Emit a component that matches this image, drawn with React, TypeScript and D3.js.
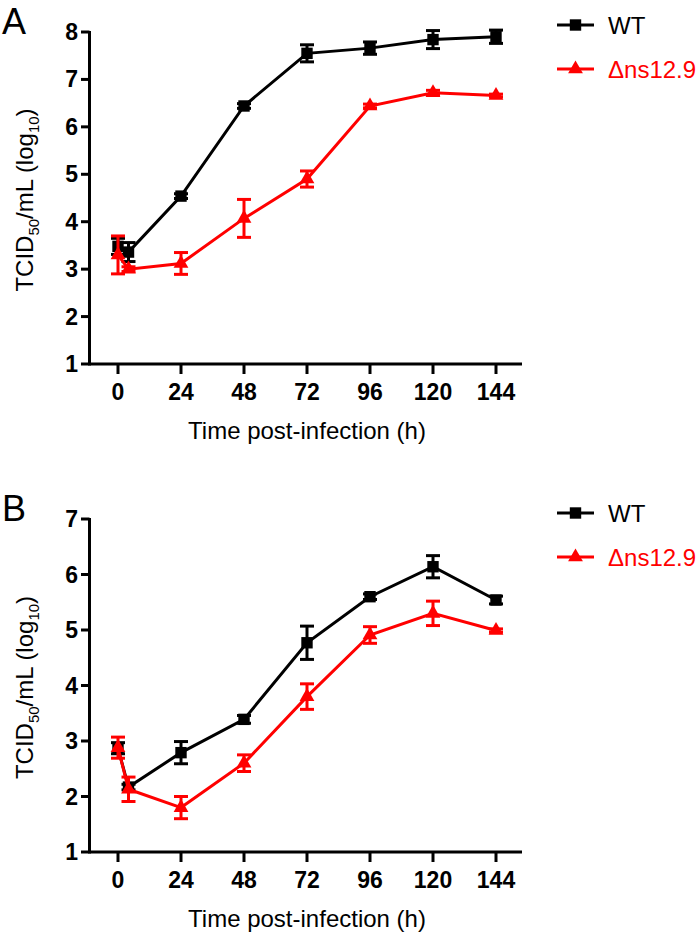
import React from "react";
import * as d3 from "d3";

const times = [0, 4, 24, 48, 72, 96, 120, 144];
const xTicks = [0, 24, 48, 72, 96, 120, 144];

const wtA = [3.48, 3.36, 4.54, 6.44, 7.55, 7.66, 7.84, 7.9];
const wtAErr = [0.17, 0.2, 0.05, 0.05, 0.18, 0.13, 0.19, 0.14];
const mutA = [3.3, 3.0, 3.12, 4.07, 4.9, 6.44, 6.72, 6.66];
const mutAErr = [0.4, 0.05, 0.23, 0.4, 0.17, 0.04, 0.05, 0.03];

const wtB = [2.87, 2.17, 2.79, 3.39, 4.77, 5.6, 6.14, 5.54];
const wtBErr = [0.1, 0.05, 0.2, 0.07, 0.3, 0.05, 0.2, 0.07];
const mutB = [2.88, 2.13, 1.8, 2.6, 3.8, 4.91, 5.3, 4.99];
const mutBErr = [0.19, 0.22, 0.2, 0.15, 0.23, 0.15, 0.22, 0.03];

const yTicksA = [1, 2, 3, 4, 5, 6, 7, 8];
const yTicksB = [1, 2, 3, 4, 5, 6, 7];

const seriesNames = ["WT", "\u0394ns12.9"];
const seriesColors = ["#000000", "#ff0000"];

const FONT = "'Liberation Sans', Arial, Helvetica, sans-serif";

type PanelProps = {
  label: string;
  top: number;
  bottom: number;
  yMax: number;
  yTicks: number[];
  wt: number[];
  wtErr: number[];
  mut: number[];
  mutErr: number[];
  labelY: number;
  legendY: number;
};

function Panel(p: PanelProps) {
  const x = d3.scaleLinear().domain([0, 144]).range([118, 496]);
  const y = d3.scaleLinear().domain([1, p.yMax]).range([p.bottom, p.top]);
  const axisX = 89.5;
  const line = d3
    .line<number>()
    .x((_, i) => x(times[i]))
    .y((d) => y(d));

  const tri = d3.symbol().type(d3.symbolTriangle).size(95)();
  const sq = d3.symbol().type(d3.symbolSquare).size(130)();

  const series = [
    { vals: p.wt, err: p.wtErr, color: seriesColors[0], shape: sq },
    { vals: p.mut, err: p.mutErr, color: seriesColors[1], shape: tri },
  ];

  const capW = 7;
  const midY = (p.top + p.bottom) / 2 + 2;

  return (
    <g>
      <text x={2} y={p.labelY} fontFamily={FONT} fontSize={36} fill="#000">
        {p.label}
      </text>
      {/* axes */}
      <line x1={axisX} x2={axisX} y1={p.top - 1} y2={p.bottom + 1.5} stroke="#000" strokeWidth={3} />
      <line x1={axisX} x2={522} y1={p.bottom} y2={p.bottom} stroke="#000" strokeWidth={3} />
      {p.yTicks.map((t) => (
        <g key={"y" + t}>
          <line x1={81} x2={axisX} y1={y(t)} y2={y(t)} stroke="#000" strokeWidth={3} />
          <text
            x={78}
            y={y(t) + 8}
            textAnchor="end"
            fontFamily={FONT}
            fontWeight="bold"
            fontSize={23}
            fill="#000"
          >
            {t}
          </text>
        </g>
      ))}
      {xTicks.map((t) => (
        <g key={"x" + t}>
          <line x1={x(t)} x2={x(t)} y1={p.bottom} y2={p.bottom + 10} stroke="#000" strokeWidth={3} />
          <text
            x={x(t)}
            y={p.bottom + 36}
            textAnchor="middle"
            fontFamily={FONT}
            fontWeight="bold"
            fontSize={23}
            fill="#000"
          >
            {t}
          </text>
        </g>
      ))}
      <text
        x={x(72)}
        y={p.bottom + 75}
        textAnchor="middle"
        fontFamily={FONT}
        fontSize={24}
        fill="#000"
      >
        Time post-infection (h)
      </text>
      <text
        transform={`translate(33,${midY}) rotate(-90)`}
        textAnchor="middle"
        fontFamily={FONT}
        fontSize={24}
        fill="#000"
      >
        TCID
        <tspan fontSize={15} dy={6}>50</tspan>
        <tspan dy={-6}>/mL (log</tspan>
        <tspan fontSize={15} dy={6}>10</tspan>
        <tspan dy={-6}>)</tspan>
      </text>
      {/* series */}
      {series.map((s, si) => (
        <g key={"s" + si}>
          <path d={line(s.vals) || ""} fill="none" stroke={s.color} strokeWidth={3} />
          {s.vals.map((v, i) => {
            const cx = x(times[i]);
            const hi = y(v + s.err[i]);
            const lo = y(v - s.err[i]);
            return (
              <g key={i}>
                <line x1={cx} x2={cx} y1={hi} y2={lo} stroke={s.color} strokeWidth={3} />
                <line x1={cx - capW} x2={cx + capW} y1={hi} y2={hi} stroke={s.color} strokeWidth={3} />
                <line x1={cx - capW} x2={cx + capW} y1={lo} y2={lo} stroke={s.color} strokeWidth={3} />
                <path d={s.shape || ""} transform={`translate(${cx},${y(v)})`} fill={s.color} />
              </g>
            );
          })}
        </g>
      ))}
      {/* legend */}
      {series.map((s, si) => {
        const ly = p.legendY + si * 44;
        return (
          <g key={"l" + si}>
            <line x1={557} x2={594} y1={ly} y2={ly} stroke={s.color} strokeWidth={3} />
            <path d={s.shape || ""} transform={`translate(575.5,${ly})`} fill={s.color} />
            <text x={608} y={ly + 9} fontFamily={FONT} fontSize={24} fill={s.color}>
              {seriesNames[si]}
            </text>
          </g>
        );
      })}
    </g>
  );
}

export default function App() {
  return (
    <svg
      width={700}
      height={934}
      style={{ position: "absolute", left: 0, top: 0, background: "#fff" }}
    >
      <rect width={700} height={934} fill="#fff" />
      <Panel
        label="A"
        top={32}
        bottom={364}
        yMax={8}
        yTicks={yTicksA}
        wt={wtA}
        wtErr={wtAErr}
        mut={mutA}
        mutErr={mutAErr}
        labelY={34}
        legendY={25}
      />
      <Panel
        label="B"
        top={519}
        bottom={852}
        yMax={7}
        yTicks={yTicksB}
        wt={wtB}
        wtErr={wtBErr}
        mut={mutB}
        mutErr={mutBErr}
        labelY={521}
        legendY={513}
      />
    </svg>
  );
}
